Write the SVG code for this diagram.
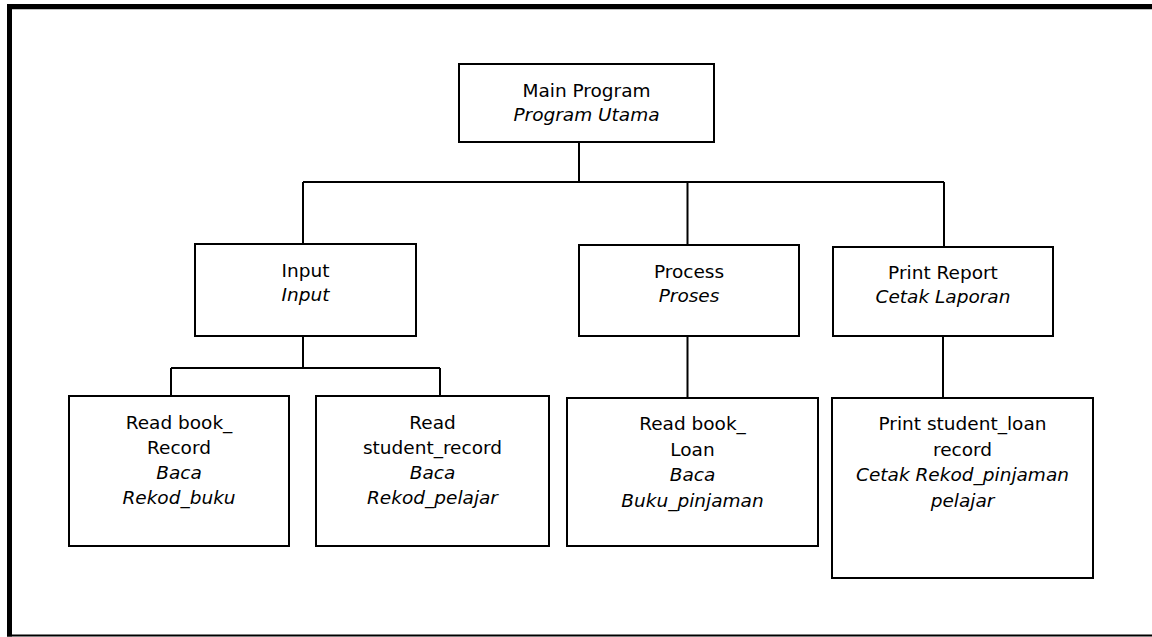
<svg xmlns="http://www.w3.org/2000/svg" width="1152" height="637" viewBox="0 0 1152 637">
<style>
.box{fill:#fff;stroke:#000;stroke-width:2}
.con{fill:none;stroke:#000;stroke-width:2}
text{font-family:"DejaVu Sans","Verdana",sans-serif;font-size:18.5px;fill:#000;text-anchor:middle}
.it{font-style:italic}
</style>
<rect width="1152" height="637" fill="#fff"/>
<g id="frame">
<line x1="7" y1="6.7" x2="1152" y2="6.7" stroke="#000" stroke-width="5.3"/>
<line x1="9.5" y1="4" x2="9.5" y2="636.5" stroke="#000" stroke-width="5"/>
<line x1="7" y1="635.5" x2="1152" y2="635.5" stroke="#000" stroke-width="2"/>
</g>
<g id="connectors">
<path class="con" d="M579 142V182M303 182H944M303 182V244M687.5 182V245M944 182V247"/>
<path class="con" d="M303 336V368M171 368H440M171 368V396M440 368V398"/>
<path class="con" d="M687.5 336V398M943 336V398"/>
</g>
<g id="main">
<rect class="box" x="459" y="64" width="255" height="78"/>
<text x="586.5" y="97">Main Program</text>
<text class="it" x="586.5" y="121">Program Utama</text>
</g>
<g id="input">
<rect class="box" x="195" y="244" width="221" height="92"/>
<text x="305.5" y="277">Input</text>
<text class="it" x="305.5" y="301">Input</text>
</g>
<g id="process">
<rect class="box" x="579" y="245" width="220" height="91"/>
<text x="689" y="278">Process</text>
<text class="it" x="689" y="302">Proses</text>
</g>
<g id="printreport">
<rect class="box" x="833" y="247" width="220" height="89"/>
<text x="943" y="279">Print Report</text>
<text class="it" x="943" y="303">Cetak Laporan</text>
</g>
<g id="readbookrecord">
<rect class="box" x="69" y="396" width="220" height="150"/>
<text x="179" y="429">Read book_</text>
<text x="179" y="454">Record</text>
<text class="it" x="179" y="479">Baca</text>
<text class="it" x="179" y="504">Rekod_buku</text>
</g>
<g id="readstudentrecord">
<rect class="box" x="316" y="396" width="233" height="150"/>
<text x="432.5" y="429">Read</text>
<text x="432.5" y="454">student_record</text>
<text class="it" x="432.5" y="479">Baca</text>
<text class="it" x="432.5" y="504">Rekod_pelajar</text>
</g>
<g id="readbookloan">
<rect class="box" x="567" y="398" width="251" height="148"/>
<text x="692.5" y="430">Read book_</text>
<text x="692.5" y="455.5">Loan</text>
<text class="it" x="692.5" y="481">Baca</text>
<text class="it" x="692.5" y="506.5">Buku_pinjaman</text>
</g>
<g id="printstudentloan">
<rect class="box" x="832" y="398" width="261" height="180"/>
<text x="962.5" y="430">Print student_loan</text>
<text x="962.5" y="455.5">record</text>
<text class="it" x="962.5" y="481">Cetak Rekod_pinjaman</text>
<text class="it" x="962.5" y="506.5">pelajar</text>
</g>
</svg>
